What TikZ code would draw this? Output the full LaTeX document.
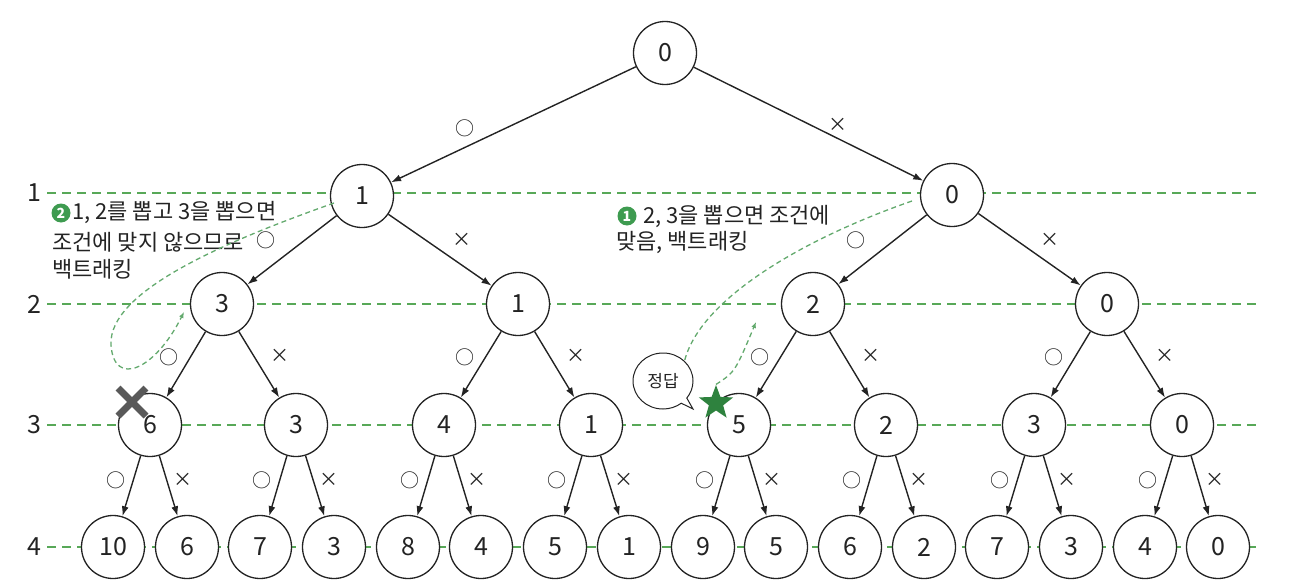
\documentclass[tikz,border=0pt]{standalone}
\usepackage{fontspec}
\setmainfont{Noto Sans CJK KR}
\usetikzlibrary{arrows.meta,shapes.geometric,shapes.callouts,calc}
\definecolor{lvgreen}{RGB}{88,168,88}
\definecolor{curvegreen}{RGB}{100,170,110}
\definecolor{badgegreen}{RGB}{62,155,80}
\definecolor{stargreen}{RGB}{46,130,62}
\definecolor{ink}{RGB}{35,35,35}
\begin{document}
\begin{tikzpicture}[x=1pt,y=-1pt,
  nd/.style={circle,draw=ink,line width=1.3pt,fill=white,minimum size=63pt,inner sep=0pt,font=\fontsize{25}{25}\selectfont,text=ink},
  edge/.style={draw=ink,line width=1.4pt,-{Latex[length=10pt,width=7pt]}},
  lvl/.style={lvgreen,line width=2.6pt,dash pattern=on 9pt off 6pt},
  lvlab/.style={font=\fontsize{25}{25}\selectfont,text=ink},
  elab/.style={font=\fontsize{19}{19}\selectfont,text=ink,inner sep=0pt},
  note/.style={font=\fontsize{22}{22}\selectfont,text=ink,anchor=west,inner sep=0pt},
  badge/.style={circle,fill=badgegreen,text=white,inner sep=0pt,minimum size=19pt,font=\fontsize{14}{14}\selectfont\bfseries},
  trail/.style={curvegreen,line width=1.3pt,dash pattern=on 5pt off 3.5pt}
]
\useasboundingbox (0,0) rectangle (1300,586);

% level guide lines
\foreach \k/\y in {1/193,2/304,3/425,4/547}{
  \node[lvlab] (lv\k) at (34,\y) {\k};
  \coordinate (lve\k) at (1257,\y);
  \draw[lvl] (lv\k.east) ++(3,0) -- (lve\k);
}

% nodes
\node[nd] (r) at (665,53) {0};
\node[nd] (a1) at (362,196) {1};
\node[nd] (a2) at (952,195) {0};
\foreach \i/\x/\t in {1/222/3,2/518/1,3/813/2,4/1107/0}
  \node[nd] (b\i) at (\x,304) {\t};
\foreach \i/\x/\t in {1/150/6,2/296/3,3/444/4,4/591/1,5/739/5,6/886/2,7/1034/3,8/1182/0}
  \node[nd] (c\i) at (\x,425) {\t};
\foreach \i/\x/\t in {1/113/10,2/187/6,3/260/7,4/334/3,5/408/8,6/481/4,7/555/5,8/629/1,9/703/9,10/776/5,11/850/6,12/924/2,13/997/7,14/1071/3,15/1145/4,16/1218/0}
  \node[nd] (d\i) at (\x,547) {\t};

% edges
\draw[edge] (r) -- (a1);
\draw[edge] (r) -- (a2);
\node[elab] (o0) at (465,128) {○};
\node[elab] (x0) at (838,125) {×};
\draw[edge] (a1) -- (b1);
\draw[edge] (a1) -- (b2);
\draw[edge] (a2) -- (b3);
\draw[edge] (a2) -- (b4);
\node[elab] (o11) at (266,240) {○};
\node[elab] (x11) at (462,240) {×};
\node[elab] (o12) at (856,240) {○};
\node[elab] (x12) at (1050,240) {×};
\foreach \p/\x in {1/222,2/518,3/813,4/1107}{
  \pgfmathtruncatemacro{\ca}{2*\p-1}
  \pgfmathtruncatemacro{\cb}{2*\p}
  \draw[edge] (b\p) -- (c\ca);
  \draw[edge] (b\p) -- (c\cb);
  \node[elab] (o2\p) at (\x-53,357) {○};
  \node[elab] (x2\p) at (\x+58,356) {×};
}
\foreach \p/\x in {1/150,2/296,3/444,4/591,5/739,6/886,7/1034,8/1182}{
  \pgfmathtruncatemacro{\ca}{2*\p-1}
  \pgfmathtruncatemacro{\cb}{2*\p}
  \draw[edge] (c\p) -- (d\ca);
  \draw[edge] (c\p) -- (d\cb);
  \node[elab] (o3\p) at (\x-34,480) {○};
  \node[elab] (x3\p) at (\x+33,480) {×};
}

% left annotation
\node[badge] (bd2) at (61,213) {2};
\node[note] (t21) at (72,213) {1, 2를 뽑고 3을 뽑으면};
\node[note] (t22) at (52,242) {조건에 맞지 않으므로};
\node[note] (t23) at (52,269) {백트래킹};
\coordinate (s2) at (334,203);
\coordinate (e2) at (184,312);
\draw[trail,-{Latex[length=6pt,width=5pt]}] (s2) .. controls (230,240) and (108,290) .. (111,345) .. controls (114,388) and (155,370) .. (e2);

% right annotation
\node[badge] (bd1) at (627,216) {1};
\node[note] (t11) at (643,216) {2, 3을 뽑으면 조건에};
\node[note] (t12) at (616,242) {맞음, 백트래킹};

\node[ellipse callout,draw=ink,line width=1pt,fill=white,minimum width=60pt,minimum height=56pt,inner sep=0pt,
  callout absolute pointer={(693,409)},font=\fontsize{17}{17}\selectfont,text=ink] (ans) at (663,381) {정답};
\coordinate (s1) at (912,201);
\draw[trail] (s1) .. controls (800,240) and (700,300) .. (ans.north east);
\node[star,star points=5,star point ratio=2.4,fill=stargreen,minimum size=36pt,inner sep=0pt] (st) at (716,403) {};
\coordinate (e1) at (756,322);
\draw[trail,-{Latex[length=6pt,width=5pt]}] (st.north) .. controls (735,372) .. (e1);

% cross mark
\coordinate (xm) at (132,402);
\draw[line width=7pt,color=black!65] ($(xm)+(-14,-14)$) -- ($(xm)+(14,14)$);
\draw[line width=7pt,color=black!65] ($(xm)+(14,-14)$) -- ($(xm)+(-14,14)$);
\end{tikzpicture}
\end{document}
